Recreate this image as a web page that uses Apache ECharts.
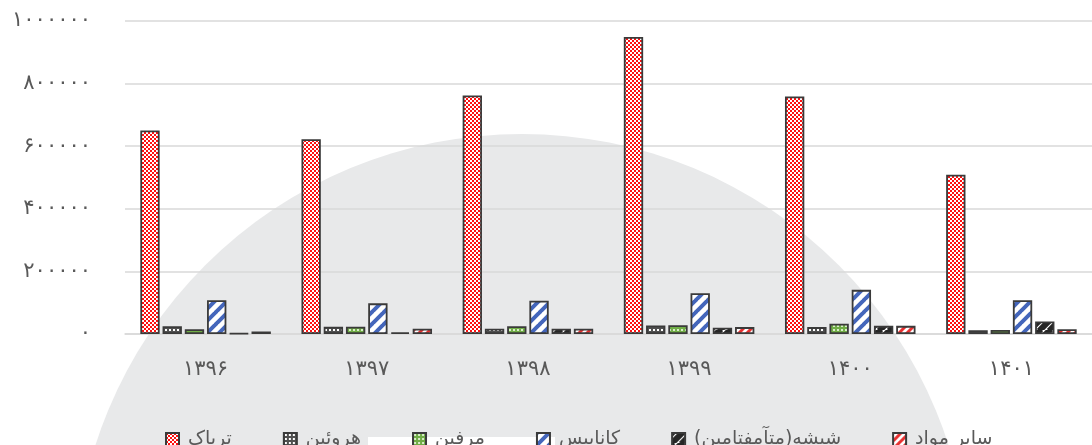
<!DOCTYPE html>
<html>
<head>
<meta charset="utf-8">
<script src="https://cdn.jsdelivr.net/npm/echarts@6/dist/echarts.min.js"></script>
<style>
  html, body { margin: 0; padding: 0; background: #fff; }
  #chart { width: 1092px; height: 445px; }
</style>
</head>
<body>
<div id="chart"></div>
<script>
// سال‌ها (شمسی)
const years = ['۱۳۹۶', '۱۳۹۷', '۱۳۹۸', '۱۳۹۹', '۱۴۰۰', '۱۴۰۱'];
const seriesNames = ['تریاک', 'هروئین', 'مرفین', 'کانابیس', 'شیشه(متآمفتامین)\u200F', 'سایر مواد'];

const opium     = [650000, 622000, 762000, 949000, 759000, 509000];
const heroin    = [25000, 23000, 17000, 27000, 22000, 12000];
const morphine  = [15000, 23000, 25000, 28000, 33000, 13000];
const cannabis  = [108000, 98000, 106000, 130000, 141000, 108000];
const glass     = [2000, 5000, 17000, 20000, 26000, 40000];
const other     = [8000, 17000, 17000, 22000, 26000, 15000];

const yTicks = [0, 200000, 400000, 600000, 800000, 1000000];

const faDigits = '۰۱۲۳۴۵۶۷۸۹';
const toFa = v => String(v).replace(/\d/g, d => faDigits[d]);

// کاشی‌های الگو
function tile(w, h, draw) {
  const c = document.createElement('canvas');
  c.width = w; c.height = h;
  const ctx = c.getContext('2d');
  draw(ctx, w, h);
  return { image: c, repeat: 'repeat' };
}
function checker(a, b, s) {
  return tile(s * 2, s * 2, (ctx) => {
    ctx.fillStyle = a; ctx.fillRect(0, 0, s * 2, s * 2);
    ctx.fillStyle = b; ctx.fillRect(0, 0, s, s); ctx.fillRect(s, s, s, s);
  });
}
function dots(bg, dot) {
  return tile(4, 4, (ctx) => {
    ctx.fillStyle = bg; ctx.fillRect(0, 0, 4, 4);
    ctx.fillStyle = dot; ctx.fillRect(1, 1, 2, 2);
  });
}
function stripes(bg, fg, size, lw) {
  return tile(size, size, (ctx, w, h) => {
    ctx.fillStyle = bg; ctx.fillRect(0, 0, w, h);
    ctx.strokeStyle = fg; ctx.lineWidth = lw;
    ctx.beginPath();
    for (let k = -1; k <= 1; k++) {
      ctx.moveTo(k * w - 1, h + 1);
      ctx.lineTo(k * w + w + 1, -1);
    }
    ctx.stroke();
  });
}

const fills = [
  checker('#ffffff', '#ff1010', 2),
  dots('#505050', '#ffffff'),
  dots('#70ad47', '#d8ecc8'),
  stripes('#ffffff', '#4466bb', 12, 4),
  stripes('#ffffff', '#262626', 10, 6),
  stripes('#ffffff', '#e83030', 8, 3)
];

const values = [opium, heroin, morphine, cannabis, glass, other];

const chart = echarts.init(document.getElementById('chart'), null, { renderer: 'canvas' });
chart.setOption({
  animation: false,
  backgroundColor: '#ffffff',
  textStyle: { fontFamily: 'DejaVu Sans' },
  graphic: {
    elements: [
      { type: 'circle', z: -100, shape: { cx: 522, cy: 582, r: 448 }, style: { fill: '#e8e9ea' }, silent: true },
      { type: 'rect', z: -99, shape: { x: 368, y: 437, width: 187, height: 10 }, style: { fill: '#ffffff' }, silent: true }
    ]
  },
  grid: { left: 125, top: 21, width: 978, height: 313, containLabel: false },
  legend: {
    left: 160,
    top: 425,
    icon: 'rect',
    itemWidth: 13,
    itemHeight: 13,
    itemGap: 51,
    textStyle: { fontSize: 19, color: '#595959', fontFamily: 'DejaVu Sans', padding: [0, 0, 0, 4] },
    data: seriesNames
  },
  xAxis: {
    type: 'category',
    data: years,
    axisLine: { lineStyle: { color: '#d9d9d9', width: 1.5 } },
    axisTick: { show: false },
    axisLabel: { color: '#595959', fontSize: 21, margin: 25 }
  },
  yAxis: {
    type: 'value',
    min: 0,
    max: 1000000,
    interval: 200000,
    axisLine: { show: false },
    axisTick: { show: false },
    splitLine: { lineStyle: { color: '#d9d9d9', width: 1.5 } },
    axisLabel: {
      color: '#595959', fontSize: 21, margin: 34,
      formatter: v => yTicks.includes(v) ? toFa(v) : ''
    }
  },
  series: seriesNames.map((name, i) => ({
    name: name,
    type: 'bar',
    data: values[i],
    barCategoryGap: '19%',
    barGap: '15%',
    itemStyle: { color: fills[i], borderColor: '#3a3a3a', borderWidth: 1.8 }
  }))
});
</script>
</body>
</html>
